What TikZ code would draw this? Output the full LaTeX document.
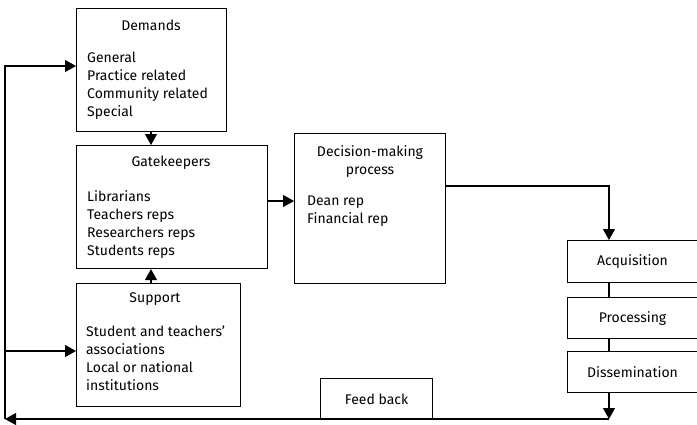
\documentclass[tikz,border=0pt]{standalone}
\usepackage{fontspec}
\setmainfont{Fira Sans}
\usetikzlibrary{arrows.meta}
\begin{document}
\begin{tikzpicture}[x=1pt,y=-1pt,
  box/.style={draw, line width=1.1pt, anchor=north west, inner sep=0pt},
  lbl/.style={inner sep=0pt, font=\fontsize{14}{18}\selectfont},
  body/.style={lbl, anchor=north west, align=left},
  link/.style={line width=1.1pt},
  arr/.style={line width=1.1pt, -{Triangle[length=11pt,width=12pt]}}]
\useasboundingbox (0,0) rectangle (697,424);

% left column of boxes
\node[box, minimum width=150pt, minimum height=123pt] (demands) at (76,8) {};
\node[lbl] (demT) at (151,25) {Demands};
\node[body] (demB) at (87,52) {General\\Practice related\\Community related\\Special};

\node[box, minimum width=191pt, minimum height=123pt] (gate) at (76,145) {};
\node[lbl] (gateT) at (171,163) {Gatekeepers};
\node[body] (gateB) at (87,190) {Librarians\\Teachers reps\\Researchers reps\\Students reps};

\node[box, minimum width=164pt, minimum height=123pt] (support) at (76,283) {};
\node[lbl] (supT) at (155,299) {Support};
\node[body] (supB) at (86,326) {Student and teachers'\\associations\\Local or national\\institutions};

% decision box
\node[box, minimum width=151pt, minimum height=150pt] (decision) at (294,133) {};
\node[lbl, anchor=north, align=center] (decT) at (370,145) {Decision-making\\process};
\node[body] (decB) at (307,196) {Dean rep\\Financial rep};

% processing chain
\node[box, minimum width=130pt, minimum height=42pt] (acq) at (567,240) {};
\node[lbl] (acqT) at (acq.center) {Acquisition};
\node[box, minimum width=130pt, minimum height=41pt] (proc) at (567,297) {};
\node[lbl] (procT) at (proc.center) {Processing};
\node[box, minimum width=130pt, minimum height=41pt] (diss) at (567,351) {};
\node[lbl] (dissT) at (diss.center) {Dissemination};

% feed back label box
\node[box, minimum width=112pt, minimum height=41pt] (feedback) at (320,378) {};
\node[lbl] (fbT) at (feedback.center) {Feed back};

% connectors
\coordinate (accIn) at (609,240);
\coordinate (dissOut) at (609,419);
\coordinate (corner) at (5,419);
\coordinate (loopTop) at (5,66);
\coordinate (loopMid) at (5,351);

\draw[arr] (demands.south -| 151,0) -- (gate.north -| 151,0);
\draw[arr] (support.north -| 151,0) -- (gate.south -| 151,0);
\draw[arr] (gate.east |- 0,201) -- (decision.west |- 0,201);
\draw[arr] (decision.east |- 0,186) -| (accIn);
\draw[link] (acq.south -| 609,0) -- (proc.north -| 609,0);
\draw[link] (proc.south -| 609,0) -- (diss.north -| 609,0);
\draw[arr] (diss.south -| 609,0) -- (dissOut);
\draw[arr] (dissOut) -- (corner);
\draw[arr] (corner) -- (loopTop) -- (demands.west |- loopTop);
\draw[arr] (loopMid) -- (support.west |- loopMid);
\end{tikzpicture}
\end{document}
